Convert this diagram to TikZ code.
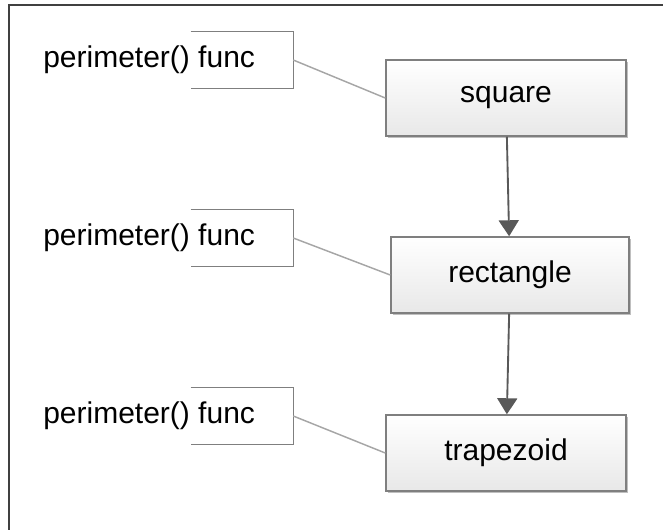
\documentclass[tikz,border=0pt]{standalone}
\usepackage{fontspec}
\setmainfont{Liberation Sans}
\usetikzlibrary{arrows.meta,shadows}

\definecolor{boxline}{HTML}{7F7F7F}
\definecolor{boxfill}{HTML}{E8E8E8}
\definecolor{linkgray}{HTML}{A6A6A6}
\definecolor{arrowgray}{HTML}{595959}
\definecolor{framegray}{HTML}{404040}

\tikzset{
  shapebox/.style={draw=boxline, line width=1.1pt, top color=white, bottom color=boxfill,
    minimum width=180pt, minimum height=57pt, inner sep=0pt,
    drop shadow={shadow xshift=1.3pt, shadow yshift=-1.3pt, fill=black, opacity=0.25}},
  notebox/.style={minimum width=76.5pt, minimum height=42pt, inner sep=0pt},
  bracket/.style={draw=boxline, line width=1.1pt},
  link/.style={draw=linkgray, line width=1.1pt},
  flow/.style={draw=arrowgray, line width=1.4pt, -{Triangle[width=15pt,length=12pt]}},
}

\begin{document}
\begin{tikzpicture}[x=0.75pt,y=-0.75pt, font=\fontsize{22.5}{27}\selectfont]
    % page and frame
    \useasboundingbox (0,0) rectangle (663,529);
    \clip (0,0) rectangle (663,529);
    \draw[framegray, line width=1.8pt] (9,5) rectangle (700,560);

    % shapes
    \node[shapebox] (sq) at (506,98) {square};
    \node[shapebox, minimum width=178.5pt] (rect) at (510,275) {rectangle};
    \node[shapebox] (trap) at (506,453) {trapezoid};

    % inheritance
    \draw[flow] (sq) -- (rect);
    \draw[flow] (rect) -- (trap);

    % notes
    \foreach \nm/\y/\tgt in {n1/60/sq, n2/238/rect, n3/416/trap} {
      \node[anchor=west, inner sep=0pt] (\nm text) at (43,\y) {perimeter() func};
      \node[notebox] (\nm) at (242,\y) {};
      \draw[bracket] (\nm.north west) -- (\nm.north east) -- (\nm.south east) -- (\nm.south west);
      \draw[link] (\nm.east) -- (\tgt.west);
    }
\end{tikzpicture}
\end{document}
